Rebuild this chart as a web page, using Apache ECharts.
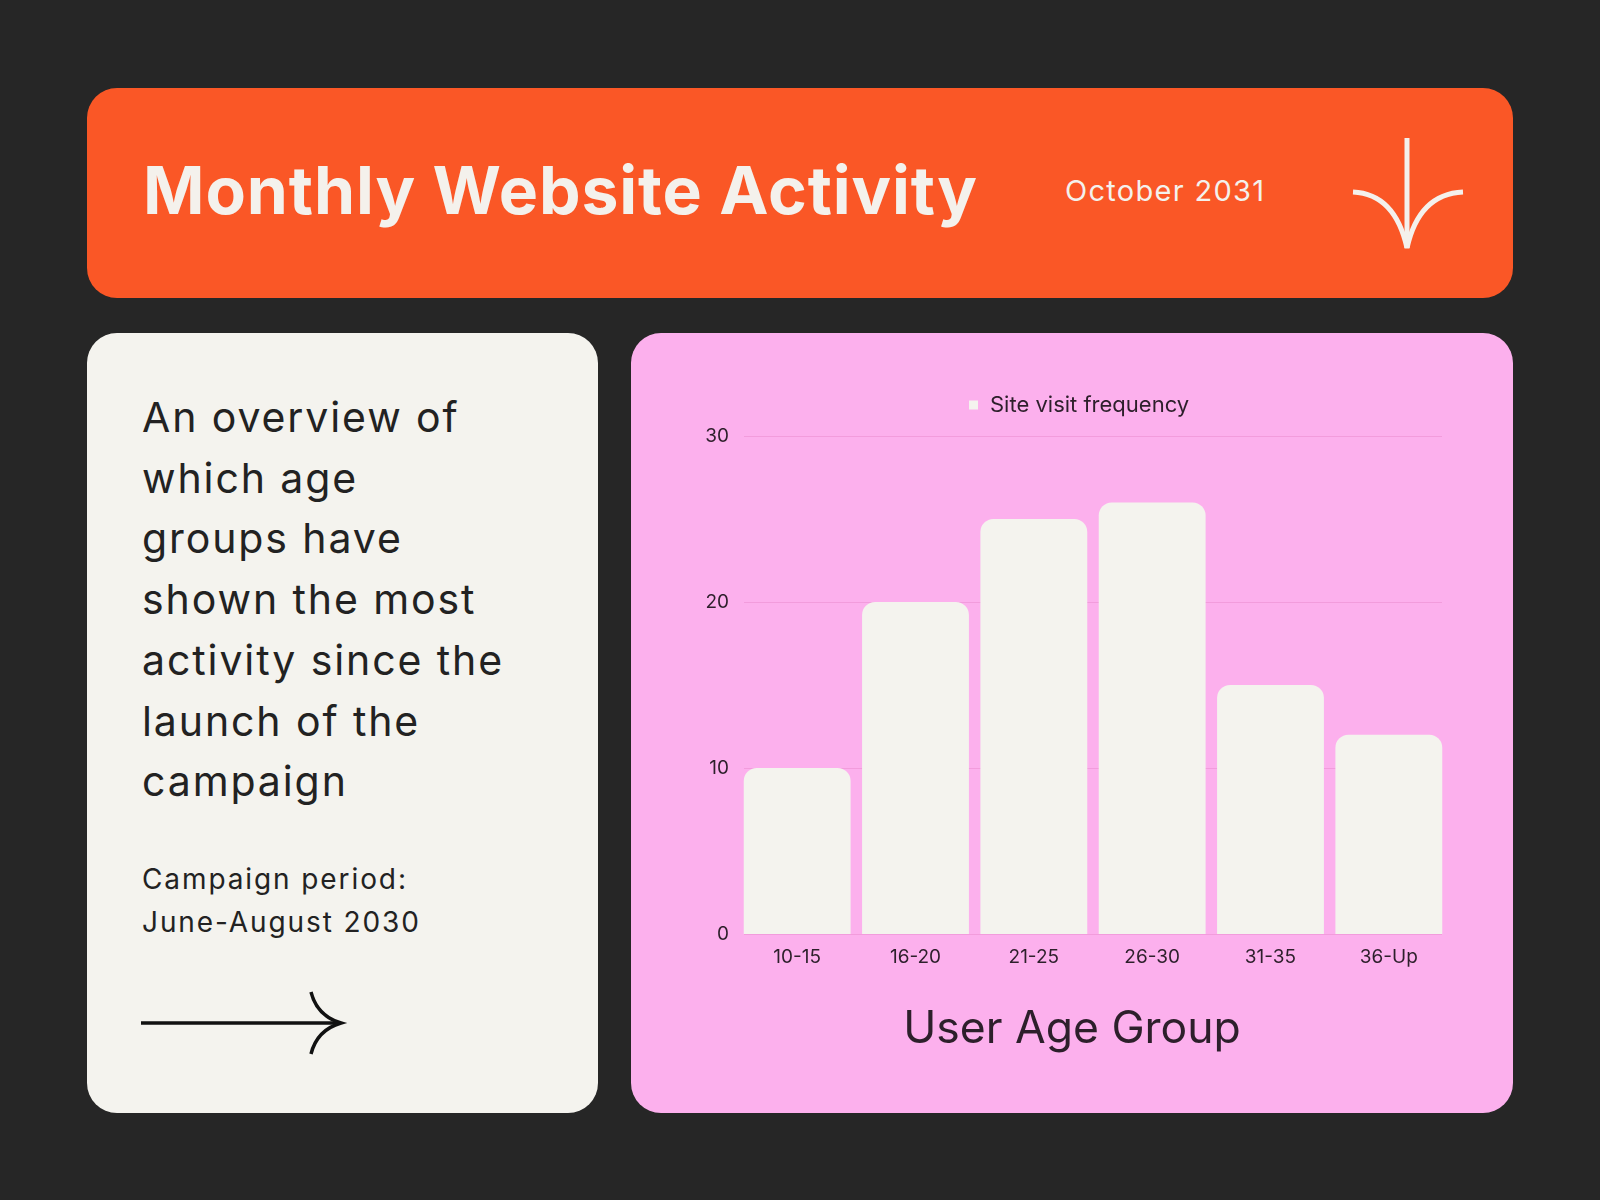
<!DOCTYPE html>
<html>
<head>
<meta charset="utf-8">
<script src="https://cdn.jsdelivr.net/npm/echarts@6/dist/echarts.min.js"></script>
<style>
  html, body { margin: 0; padding: 0; background: #262626; }
  body { width: 1600px; height: 1200px; position: relative; overflow: hidden; font-family: Inter, "Noto Sans", sans-serif; }
  .card { position: absolute; border-radius: 30px; }
  #header { left: 87px; top: 88px; width: 1426px; height: 210px; background: #fa5726; }
  #title { position: absolute; left: 56px; top: 62px; font-size: 66px; font-weight: 700; color: #f4f1ec; letter-spacing: 0.9px; }
  #date { position: absolute; left: 978px; top: 85px; font-size: 29px; color: #f4f1ec; letter-spacing: 1.3px; }
  #side { left: 87px; top: 333px; width: 511px; height: 780px; background: #f4f3ee; color: #222; }
  #blurb { position: absolute; left: 55px; top: 54px; font-size: 41px; line-height: 60.7px; letter-spacing: 1.9px; }
  #period { position: absolute; left: 55px; top: 525px; font-size: 28px; line-height: 43px; letter-spacing: 1.9px; }
  #panel { left: 631px; top: 333px; width: 882px; height: 780px; background: #fcb0ed; }
  #chart { position: absolute; left: 0; top: 0; width: 882px; height: 780px; }
  svg { position: absolute; }
</style>
</head>
<body>
<div class="card" id="header">
  <div id="title">Monthly Website Activity</div>
  <div id="date">October 2031</div>
  <svg width="140" height="140" style="left:1258px; top:44px" viewBox="0 0 140 140">
    <path d="M62 6 L62 116" stroke="#f4f1ec" stroke-width="5" fill="none"/>
    <path d="M8 60 Q50 62 62 116 Q74 62 118 60" stroke="#f4f1ec" stroke-width="5" fill="none"/>
  </svg>
</div>
<div class="card" id="side">
  <div id="blurb">An overview of<br>which age<br>groups have<br>shown the most<br>activity since the<br>launch of the<br>campaign</div>
  <div id="period">Campaign period:<br>June-August 2030</div>
  <svg width="240" height="90" style="left:52px; top:645px" viewBox="0 0 240 90">
    <path d="M2 45 L202 45" stroke="#111" stroke-width="3.5" fill="none"/>
    <path d="M172 14 Q178 38 202 45 Q178 52 172 76" stroke="#111" stroke-width="3.5" fill="none"/>
  </svg>
</div>
<div class="card" id="panel">
  <div id="chart"></div>
</div>
<script>
  const ageGroups = ['10-15', '16-20', '21-25', '26-30', '31-35', '36-Up'];
  const visitFrequency = [10, 20, 25, 26, 15, 12];
  const yTicks = { min: 0, max: 30, interval: 10 };

  const chart = echarts.init(document.getElementById('chart'));
  const textColor = '#2d1f2b';

  // grid 0 holds the bars (widened by half a gap so the outer bars sit flush
  // with the gridlines), grid 1 only draws the gridlines
  const option = {
    animation: false,
    textStyle: { fontFamily: 'Inter, "Noto Sans", sans-serif' },
    legend: {
      top: 56,
      left: 333,
      icon: 'rect',
      itemWidth: 9,
      itemHeight: 9,
      itemGap: 16,
      textStyle: { color: textColor, fontSize: 22, padding: [0, 0, 0, 7] },
      data: ['Site visit frequency']
    },
    grid: [
      { left: 107, right: 65, top: 103, bottom: 179 },
      { left: 113, right: 71, top: 103, bottom: 179 }
    ],
    xAxis: [{
      type: 'category',
      gridIndex: 0,
      data: ageGroups,
      name: 'User Age Group',
      nameLocation: 'middle',
      nameGap: 73,
      nameTextStyle: { color: textColor, fontSize: 44.5, padding: [0, 42, 0, 0] },
      axisLine: { show: false },
      axisTick: { show: false },
      axisLabel: { color: textColor, fontSize: 19, margin: 14 }
    }, {
      type: 'value',
      gridIndex: 1,
      show: false
    }],
    yAxis: [{
      type: 'value',
      gridIndex: 0,
      min: yTicks.min,
      max: yTicks.max,
      interval: yTicks.interval,
      axisLine: { show: false },
      axisTick: { show: false },
      axisLabel: { color: textColor, fontSize: 19, margin: 9 },
      splitLine: { show: false }
    }, {
      type: 'value',
      gridIndex: 1,
      min: yTicks.min,
      max: yTicks.max,
      interval: yTicks.interval,
      axisLine: { show: false },
      axisTick: { show: false },
      axisLabel: { show: false },
      splitLine: { lineStyle: { color: '#f29cdc', width: 1 } }
    }],
    series: [{
      name: 'Site visit frequency',
      type: 'bar',
      xAxisIndex: 0,
      yAxisIndex: 0,
      data: visitFrequency,
      barCategoryGap: '9.7%',
      z: 3,
      itemStyle: { color: '#f4f3ee', borderRadius: [13, 13, 0, 0] }
    }]
  };

  chart.setOption(option);
</script>
</body>
</html>
